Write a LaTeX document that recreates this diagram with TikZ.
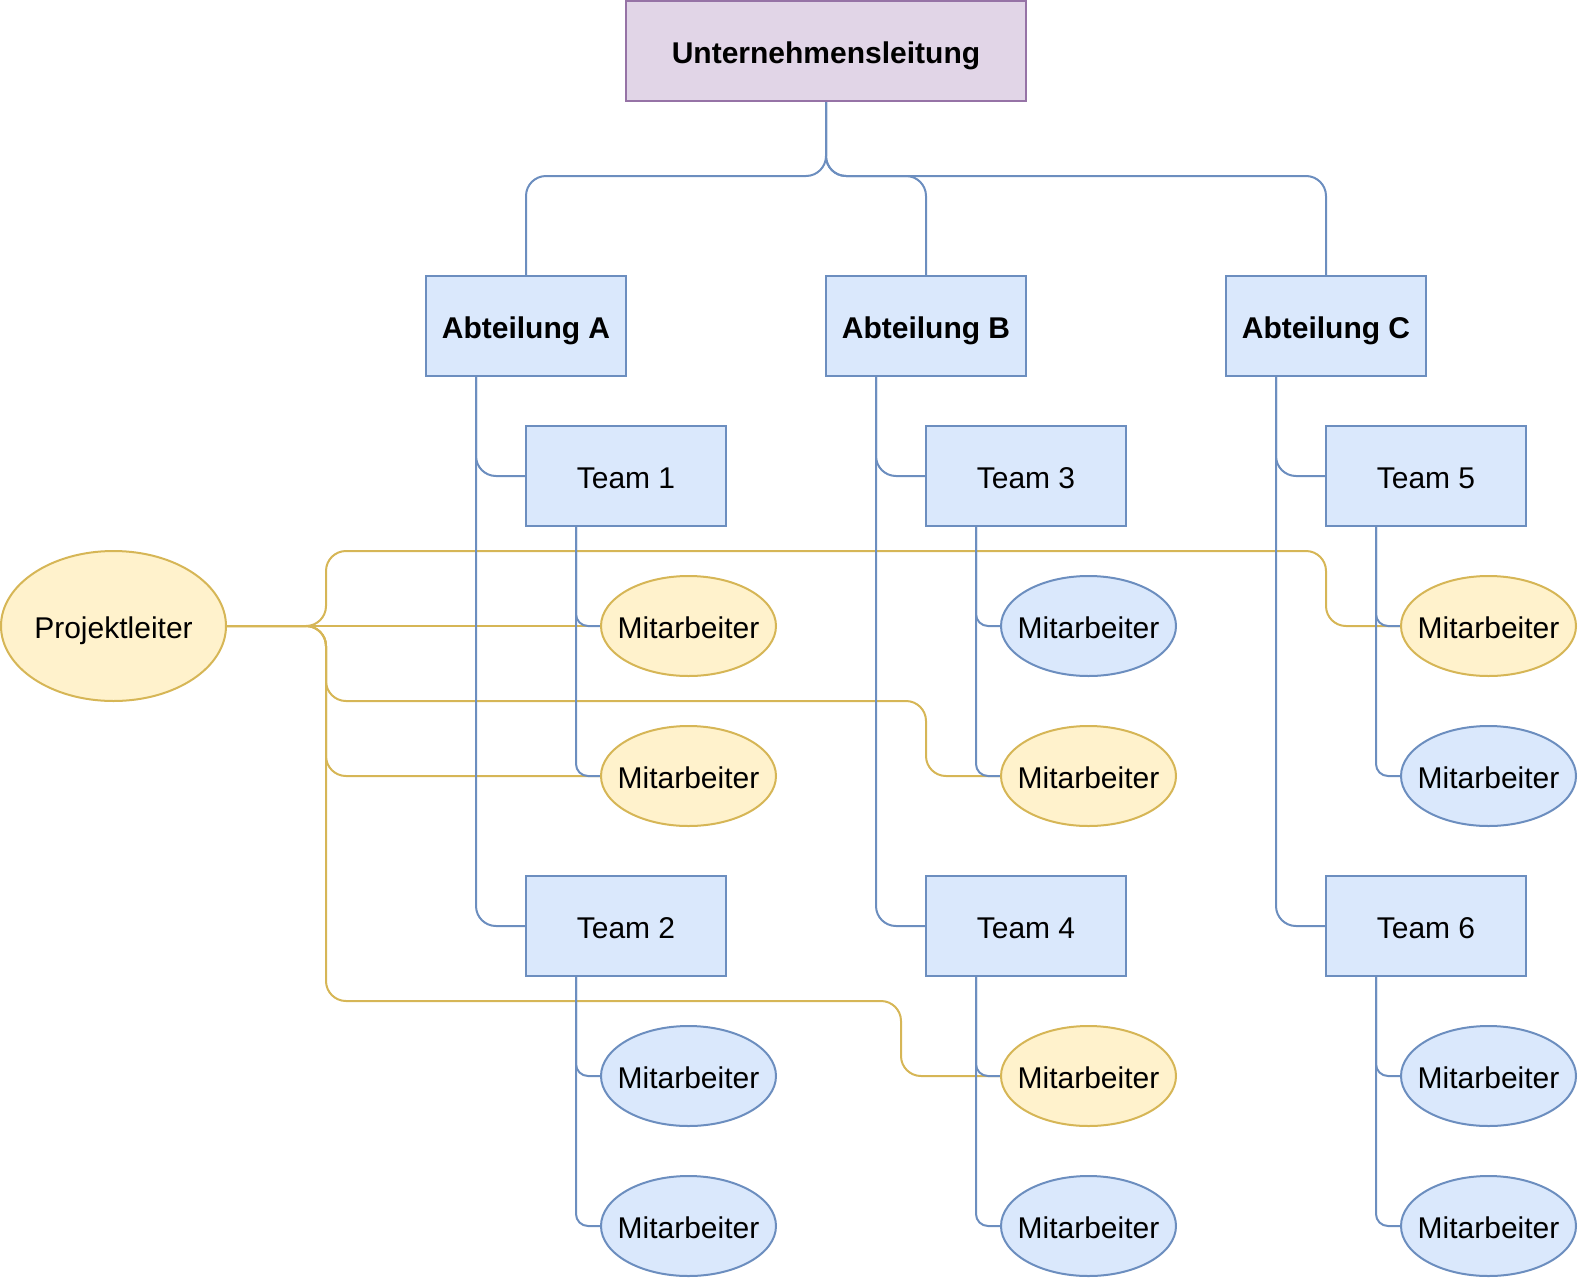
\documentclass[tikz,border=0pt]{standalone}
\usepackage{fontspec}
\setmainfont{Liberation Sans}
\usetikzlibrary{shapes.geometric}
\pgfdeclarelayer{bg}
\pgfsetlayers{bg,main}
\definecolor{bluefill}{HTML}{DAE8FC}
\definecolor{bluestroke}{HTML}{6C8EBF}
\definecolor{yelfill}{HTML}{FFF2CC}
\definecolor{yelstroke}{HTML}{D6B656}
\definecolor{purfill}{HTML}{E1D5E7}
\definecolor{purstroke}{HTML}{9673A6}
\newcommand{\zw}[1]{\makebox[0pt]{#1}}
\tikzset{
  base/.style={font=\fontsize{30}{36}\selectfont, inner sep=0pt, line width=2pt, text height=27pt, text depth=3pt},
  topbox/.style={base, draw=purstroke, fill=purfill, minimum width=400pt, minimum height=100pt, font=\fontsize{30}{36}\selectfont\bfseries},
  deptbox/.style={base, draw=bluestroke, fill=bluefill, minimum width=200pt, minimum height=100pt, font=\fontsize{30}{36}\selectfont\bfseries},
  teambox/.style={base, draw=bluestroke, fill=bluefill, minimum width=200pt, minimum height=100pt},
  bmit/.style={base, ellipse, draw=bluestroke, fill=bluefill, minimum width=175pt, minimum height=100pt},
  ymit/.style={base, ellipse, draw=yelstroke, fill=yelfill, minimum width=175pt, minimum height=100pt},
  pl/.style={base, ellipse, draw=yelstroke, fill=yelfill, minimum width=225pt, minimum height=150pt},
  bline/.style={draw=bluestroke, line width=2pt, rounded corners=20pt},
  bshort/.style={draw=bluestroke, line width=2pt, rounded corners=12pt},
  yline/.style={draw=yelstroke, line width=2pt, rounded corners=20pt},
}
\begin{document}
\begin{tikzpicture}[x=1pt,y=-1pt]
\useasboundingbox (0,0) rectangle (1580,1280);
% nodes
\node[topbox] (u) at (826,51) {Unternehmensleitung};
\node[deptbox] (aA) at (526,326) {Abteilung A};
\node[deptbox] (aB) at (926,326) {Abteilung B};
\node[deptbox] (aC) at (1326,326) {Abteilung C};
\node[teambox] (t1) at (626,476) {Team 1};
\node[teambox] (t3) at (1026,476) {Team 3};
\node[teambox] (t5) at (1426,476) {Team 5};
\node[teambox] (t2) at (626,926) {Team 2};
\node[teambox] (t4) at (1026,926) {Team 4};
\node[teambox] (t6) at (1426,926) {Team 6};
\node[ymit] (m11) at (688.5,626) {\zw{Mitarbeiter}};
\node[ymit] (m12) at (688.5,776) {\zw{Mitarbeiter}};
\node[bmit] (m31) at (1088.5,626) {\zw{Mitarbeiter}};
\node[ymit] (m32) at (1088.5,776) {\zw{Mitarbeiter}};
\node[ymit] (m51) at (1488.5,626) {\zw{Mitarbeiter}};
\node[bmit] (m52) at (1488.5,776) {\zw{Mitarbeiter}};
\node[bmit] (m21) at (688.5,1076) {\zw{Mitarbeiter}};
\node[bmit] (m22) at (688.5,1226) {\zw{Mitarbeiter}};
\node[ymit] (m41) at (1088.5,1076) {\zw{Mitarbeiter}};
\node[bmit] (m42) at (1088.5,1226) {\zw{Mitarbeiter}};
\node[bmit] (m61) at (1488.5,1076) {\zw{Mitarbeiter}};
\node[bmit] (m62) at (1488.5,1226) {\zw{Mitarbeiter}};
\node[pl] (p) at (113.5,626) {\zw{Projektleiter}};
% bend coordinates
\coordinate (bus) at (0,176);
\coordinate (ya) at (326,626);
\coordinate (yb) at (326,551);
\coordinate (yc) at (1326,551);
\coordinate (yd) at (326,701);
\coordinate (ye) at (926,701);
\coordinate (yf) at (326,1001);
\coordinate (yg) at (901,1001);
\begin{pgfonlayer}{bg}
% yellow connectors
\draw[yline] (p.east) -- (m11.west);
\draw[yline] (p.east) -- (ya) -- (yb) -- (yc) |- (m51.west);
\draw[yline] (p.east) -- (ya) -- (yd) -- (ye) |- (m32.west);
\draw[yline] (p.east) -- (ya) |- (m12.west);
\draw[yline] (p.east) -- (ya) -- (yf) -- (yg) |- (m41.west);
% blue connectors
\draw[bline] (u.south) -- (u.south |- bus) -| (aA.north);
\draw[bline] (u.south) -- (u.south |- bus) -| (aB.north);
\draw[bline] (u.south) -- (u.south |- bus) -| (aC.north);
\foreach \a/\t in {aA/t1,aA/t2,aB/t3,aB/t4,aC/t5,aC/t6}{
  \draw[bline] ([xshift=-50pt]\a.south) |- (\t.west);
}
\foreach \t/\m in {t1/m11,t1/m12,t2/m21,t2/m22,t3/m31,t3/m32,t4/m41,t4/m42,t5/m51,t5/m52,t6/m61,t6/m62}{
  \draw[bshort] ([xshift=-50pt]\t.south) |- (\m.west);
}
\end{pgfonlayer}
\end{tikzpicture}
\end{document}
